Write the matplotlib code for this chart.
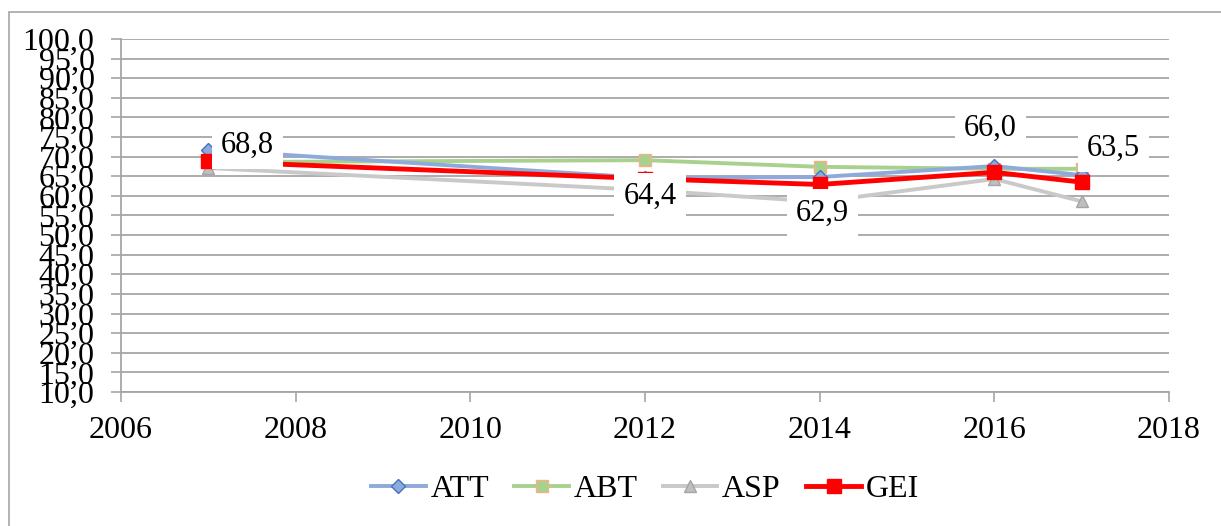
import numpy as np
import matplotlib.pyplot as plt
from matplotlib.patches import Rectangle

anos = [2007, 2012, 2014, 2016, 2017]
att = [71.7, 64.6, 64.8, 67.6, 65.3]
abt = [68.6, 69.1, 67.4, 66.9, 66.9]
asp = [67.1, 61.5, 58.5, 64.3, 58.6]
gei = [68.8, 64.4, 62.9, 66.0, 63.5]
etiquetas = ['68,8', '64,4', '62,9', '66,0', '63,5']

plt.rcParams['font.family'] = ['Liberation Serif', 'DejaVu Serif']

fig = plt.figure(figsize=(12.21, 5.26), dpi=100)
ax = fig.add_axes([0.0991, 0.2548, 0.8583, 0.6711])

# borde exterior del grafico
fig.patches.append(Rectangle((9 / 1221, -0.01), 1.2, 0.997 - 0.01, transform=fig.transFigure,
                             fill=False, edgecolor='#a6a6a6', linewidth=1.2))

ax.plot(anos, att, color='#8eaadb', lw=2.8, marker='D', ms=7,
        mfc='#8eaadb', mec='#4472c4', label='ATT', zorder=3)
ax.plot(anos, abt, color='#a9d18e', lw=2.8, marker='s', ms=9,
        mfc='#a9d18e', mec='#f4b183', label='ABT', zorder=2)
ax.plot(anos, asp, color='#c9c9c9', lw=2.8, marker='^', ms=9,
        mfc='#bfbfbf', mec='#a5a5a5', label='ASP', zorder=2)
ax.plot(anos, gei, color='#ff0000', lw=3.5, marker='s', ms=10,
        mfc='#ff0000', mec='#ff0000', label='GEI', zorder=4)

# desplazamiento de etiquetas: (pixeles en x, unidades en y)
desp = [(39, 4.2), (5, -4.5), (3, -7.3), (-4, 11.3), (32, 8.7)]
for x, y, t, d in zip(anos, gei, etiquetas, desp):
    ax.text(x + d[0] / 87.3, y + d[1], t, ha='center', va='center', fontsize=22,
            bbox=dict(boxstyle='square,pad=0.3', fc='white', ec='none'), zorder=5)

ax.set_xlim(2006, 2018)
ax.set_ylim(10, 100)
ax.set_xticks(np.arange(2006, 2019, 2))
ax.set_yticks(np.arange(10, 101, 5))
ax.set_yticklabels([f'{v:.1f}'.replace('.', ',') for v in np.arange(10, 101, 5)])
ax.tick_params(axis='both', labelsize=23, color='#a6a6a6', length=7, width=1.2)
ax.tick_params(axis='y', pad=12)
ax.tick_params(axis='x', pad=10)
ax.grid(axis='y', color='#a6a6a6', lw=1.3)
for s in ['top', 'right']:
    ax.spines[s].set_visible(False)
for s in ['left', 'bottom']:
    ax.spines[s].set_color('#a6a6a6')
    ax.spines[s].set_linewidth(1.3)

ax.legend(loc='center', bbox_to_anchor=(0.5, -0.275), ncol=4, frameon=False,
          fontsize=23, handlelength=1.7, columnspacing=0.8, handletextpad=0.15)

plt.savefig('out.png', dpi=100)
